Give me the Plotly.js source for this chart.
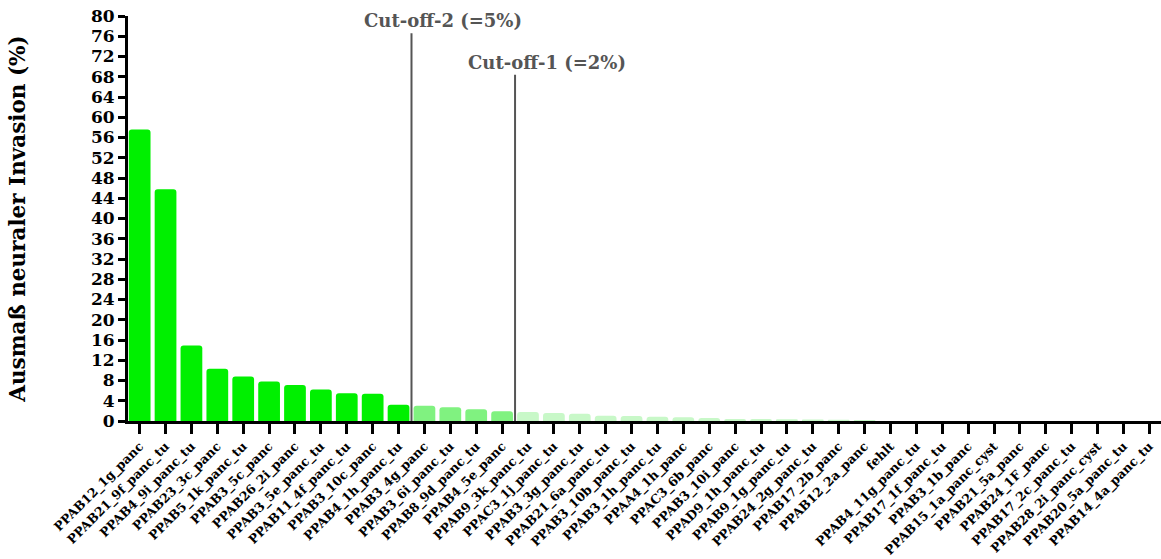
<!DOCTYPE html>
<html>
<head>
<meta charset="utf-8">
<script src="https://cdn.plot.ly/plotly-3.0.1.min.js"></script>
<style>
  html, body { margin: 0; padding: 0; background: #ffffff; }
  #chart { width: 1161px; height: 559px; }
</style>
</head>
<body>
<div id="chart"></div>
<script>
// Samples, sorted by extent of neural invasion
const samples = [
  "PPAB12_1g_panc", "PPAB21_9f_panc_tu", "PPAB4_9i_panc_tu", "PPAB23_3c_panc",
  "PPAB5_1k_panc_tu", "PPAB3_5c_panc", "PPAB26_2i_panc", "PPAB3_5e_panc_tu",
  "PPAB11_4f_panc_tu", "PPAB3_10c_panc", "PPAB4_1h_panc_tu", "PPAB3_4g_panc",
  "PPAB3_6i_panc_tu", "PPAB8_9d_panc_tu", "PPAB4_5e_panc", "PPAB9_3k_panc_tu",
  "PPAC3_1j_panc_tu", "PPAB3_3g_panc_tu", "PPAB21_6a_panc_tu", "PPAB3_10b_panc_tu",
  "PPAB3_1h_panc_tu", "PPAA4_1h_panc", "PPAC3_6b_panc", "PPAB3_10i_panc",
  "PPAD9_1h_panc_tu", "PPAB9_1g_panc_tu", "PPAB24_2g_panc_tu", "PPAB17_2b_panc",
  "PPAB12_2a_panc", "fehlt", "PPAB4_11g_panc_tu", "PPAB17_1f_panc_tu",
  "PPAB3_1b_panc", "PPAB15_1a_panc_cyst", "PPAB21_5a_panc", "PPAB24_1F_panc",
  "PPAB17_2c_panc_tu", "PPAB28_2i_panc_cyst", "PPAB20_5a_panc_tu", "PPAB14_4a_panc_tu"
];

// Ausmaß neuraler Invasion in %
const invasion = [
  57.6, 45.8, 14.9, 10.3, 8.8, 7.8, 7.1, 6.2, 5.5, 5.4,
  3.2, 3.0, 2.7, 2.3, 1.95, 1.8, 1.6, 1.45, 1.05, 1.0,
  0.85, 0.75, 0.6, 0.4, 0.4, 0.35, 0.3, 0.25, 0.2, 0,
  0, 0, 0, 0, 0, 0, 0, 0, 0, 0
];

// Cut-off positions: number of samples left of each line
const cutoffs = [
  { label: "Cut-off-2 (=5%)", after: 11, top: 76.6 },
  { label: "Cut-off-1 (=2%)", after: 15, top: 68.4 }
];

const groupColors = ["rgb(0,240,0)", "rgb(128,242,128)", "rgb(200,248,200)"];

const barColors = samples.map((_, i) => {
  if (i < cutoffs[0].after) return groupColors[0];
  if (i < cutoffs[1].after) return groupColors[1];
  return groupColors[2];
});

const serif = "DejaVu Serif";
const grey = "#555555";

const trace = {
  type: "bar",
  x: samples,
  y: invasion,
  marker: { color: barColors, line: { width: 0 }, cornerradius: 3 },
  hoverinfo: "x+y"
};

const shapes = cutoffs.map(c => ({
  type: "line",
  xref: "x", yref: "y",
  x0: c.after - 0.5, x1: c.after - 0.5,
  y0: 0, y1: c.top,
  line: { color: grey, width: 2 }
}));

const annotations = cutoffs.map(c => ({
  xref: "x", yref: "y",
  x: c.after - 0.5, y: c.top,
  xshift: 32, yshift: 0,
  xanchor: "center", yanchor: "bottom",
  text: c.label,
  showarrow: false,
  font: { family: serif, size: 18, color: grey, weight: 700 }
}));

const layout = {
  width: 1161,
  height: 559,
  margin: { l: 128, r: 0, t: 16, b: 138 },
  paper_bgcolor: "#ffffff",
  plot_bgcolor: "#ffffff",
  showlegend: false,
  bargap: 0.16,
  xaxis: {
    type: "category",
    range: [-0.45, samples.length - 0.55],
    showline: true, linecolor: "#000000", linewidth: 3,
    ticks: "outside", ticklen: 10, tickwidth: 3, tickcolor: "#000000",
    tickangle: -45,
    tickfont: { family: serif, size: 12.6, color: "#000000", weight: 700 },
    showgrid: false, zeroline: false, automargin: false
  },
  yaxis: {
    range: [0, 80],
    dtick: 4,
    showline: true, linecolor: "#000000", linewidth: 3,
    ticks: "outside", ticklen: 7, tickwidth: 3, tickcolor: "#000000",
    tickfont: { family: serif, size: 17, color: "#000000", weight: 700 },
    showgrid: false, zeroline: false, automargin: false,
    title: {
      text: "Ausmaß neuraler Invasion (%)",
      font: { family: serif, size: 21.5, color: "#000000", weight: 700 },
      standoff: 60
    }
  },
  shapes: shapes,
  annotations: annotations
};

Plotly.newPlot("chart", [trace], layout, { displayModeBar: false, staticPlot: true });
</script>
</body>
</html>
